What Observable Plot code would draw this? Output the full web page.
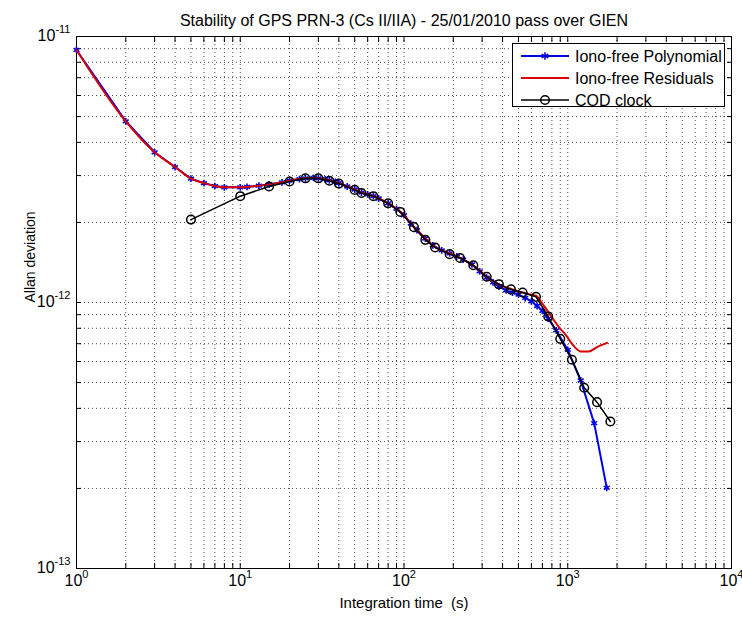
<!DOCTYPE html>
<html><head><meta charset="utf-8">
<script src="https://cdn.jsdelivr.net/npm/d3@7"></script>
<script src="https://cdn.jsdelivr.net/npm/@observablehq/plot@0.6"></script>
<style>
body{margin:0;background:#fff;}
svg{font-family:"Liberation Sans",Arial,sans-serif;}
</style>
</head><body><div id="chart"></div>
<script>
const title = "Stability of GPS PRN-3 (Cs II/IIA) - 25/01/2010 pass over GIEN";
const xLabel = "Integration time  (s)";
const yLabel = "Allan deviation";
const seriesNames = ["Iono-free Polynomial", "Iono-free Residuals", "COD clock"];
const seriesColors = ["#0000e6", "#d80000", "#000000"];

const polyTau = [1,2,3,4,5,6,7,8,10,11,13,15,18,20,23,25,28,30,33,35,38,40,45,50,55,60,65,70,80,90,100,110,120,135,150,170,190,210,230,260,290,320,350,380,420,460,500,550,600,650,700,760,850,1000,1200,1450,1730];
const polyVal = [8.9e-12,4.8e-12,3.67e-12,3.23e-12,2.92e-12,2.81e-12,2.74e-12,2.71e-12,2.71e-12,2.72e-12,2.75e-12,2.78e-12,2.83e-12,2.87e-12,2.91e-12,2.93e-12,2.94e-12,2.93e-12,2.91e-12,2.88e-12,2.84e-12,2.81e-12,2.73e-12,2.66e-12,2.59e-12,2.55e-12,2.51e-12,2.46e-12,2.36e-12,2.25e-12,2.13e-12,1.98e-12,1.87e-12,1.74e-12,1.64e-12,1.57e-12,1.53e-12,1.49e-12,1.45e-12,1.39e-12,1.31e-12,1.24e-12,1.19e-12,1.15e-12,1.11e-12,1.09e-12,1.07e-12,1.04e-12,1.01e-12,9.7e-13,9.3e-13,8.7e-13,7.85e-13,6.64e-13,5.09e-13,3.52e-13,2.01e-13];

const resTau = [1,2,3,4,5,6,7,8,10,11,13,15,18,20,23,25,28,30,33,35,38,40,45,50,55,60,65,70,80,90,100,110,120,135,150,170,190,210,230,260,290,320,350,380,420,460,500,550,600,640,700,790,880,965,1080,1200,1350,1510,1740];
const resVal = [8.9e-12,4.8e-12,3.67e-12,3.23e-12,2.92e-12,2.81e-12,2.74e-12,2.71e-12,2.71e-12,2.72e-12,2.75e-12,2.78e-12,2.83e-12,2.87e-12,2.91e-12,2.93e-12,2.94e-12,2.93e-12,2.91e-12,2.88e-12,2.84e-12,2.81e-12,2.73e-12,2.66e-12,2.59e-12,2.55e-12,2.51e-12,2.46e-12,2.36e-12,2.25e-12,2.13e-12,1.98e-12,1.87e-12,1.74e-12,1.64e-12,1.57e-12,1.53e-12,1.49e-12,1.45e-12,1.39e-12,1.32e-12,1.25e-12,1.2e-12,1.17e-12,1.14e-12,1.12e-12,1.1e-12,1.085e-12,1.07e-12,1.06e-12,9.9e-13,8.9e-13,8.1e-13,7.6e-13,6.9e-13,6.55e-13,6.55e-13,6.8e-13,7.05e-13];

const codTau = [5,10,15,20,25,30,35,40,50,55,65,80,95,115,135,155,190,220,265,320,380,450,530,640,760,900,1060,1260,1510,1820];
const codVal = [2.05e-12,2.51e-12,2.73e-12,2.85e-12,2.93e-12,2.93e-12,2.87e-12,2.8e-12,2.65e-12,2.58e-12,2.51e-12,2.36e-12,2.19e-12,1.92e-12,1.72e-12,1.61e-12,1.52e-12,1.47e-12,1.38e-12,1.25e-12,1.17e-12,1.12e-12,1.09e-12,1.05e-12,8.86e-13,7.3e-13,6.09e-13,4.78e-13,4.22e-13,3.57e-13];

const xMajor = [1, 10, 100, 1000, 10000];
const yMajor = [1e-13, 1e-12, 1e-11];
const xMinor = [0,1,2,3].flatMap(k => [2,3,4,5,6,7,8,9].map(m => m * Math.pow(10, k)));
const yMinor = [-13,-12].flatMap(k => [2,3,4,5,6,7,8,9].map(m => m * Math.pow(10, k)));
const xAll = xMajor.concat(xMinor);
const yAll = yMajor.concat(yMinor);

const poly = polyTau.map((t, i) => ({t, v: polyVal[i]}));
const res = resTau.map((t, i) => ({t, v: resVal[i]}));
const cod = codTau.map((t, i) => ({t, v: codVal[i]}));

const expFmt = d => "10^" + Math.round(Math.log10(d));
const gridStyle = {stroke: "#000", strokeOpacity: 0.7, strokeWidth: 1, strokeDasharray: "1,3"};
const font = "'Liberation Sans', Arial, sans-serif";

const plot = Plot.plot({
  width: 742, height: 617,
  marginLeft: 76, marginRight: 11, marginTop: 36, marginBottom: 49,
  style: {fontFamily: font, fontSize: "14px", background: "#fff", color: "#000", overflow: "visible"},
  x: {type: "log", domain: [1, 1e4]},
  y: {type: "log", domain: [1e-13, 1e-11]},
  marks: [
    Plot.gridX(xAll, gridStyle),
    Plot.gridY(yAll, gridStyle),
    Plot.axisX(xAll, {anchor: "bottom", tickSize: -5, tickFormat: () => "", label: null}),
    Plot.axisX(xAll, {anchor: "top", tickSize: -5, tickFormat: () => "", label: null}),
    Plot.axisY(yAll, {anchor: "left", tickSize: -5, tickFormat: () => "", label: null}),
    Plot.axisY(yAll, {anchor: "right", tickSize: -5, tickFormat: () => "", label: null}),
    Plot.axisX(xMajor, {anchor: "bottom", tickSize: 0, tickPadding: 8, tickFormat: expFmt, label: null}),
    Plot.axisY(yMajor, {anchor: "left", tickSize: 0, tickPadding: 6, tickFormat: expFmt, label: null}),
    Plot.frame({stroke: "#000", strokeWidth: 1}),
    Plot.line(poly, {x: "t", y: "v", stroke: seriesColors[0], strokeWidth: 2}),
    Plot.dot(poly, {x: "t", y: "v", symbol: "asterisk", r: 3.2, stroke: seriesColors[0], strokeWidth: 1.6}),
    Plot.line(res, {x: "t", y: "v", stroke: seriesColors[1], strokeWidth: 2, curve: "monotone-x"}),
    Plot.line(cod, {x: "t", y: "v", stroke: seriesColors[2], strokeWidth: 1.5}),
    Plot.dot(cod, {x: "t", y: "v", r: 4.3, stroke: seriesColors[2], strokeWidth: 1.5, fill: "none"}),
    Plot.text([title], {text: d => d, frameAnchor: "top", dy: -22, fontSize: 16}),
    Plot.text([xLabel], {text: d => d, frameAnchor: "bottom", dy: 39, fontSize: 15}),
    Plot.text([yLabel], {text: d => d, frameAnchor: "left", dx: -46, rotate: -90, fontSize: 14})
  ]
});

document.getElementById("chart").appendChild(plot);

// superscript exponents on tick labels
d3.select(plot).selectAll("text").each(function() {
  const s = this.textContent;
  if (/^10\^-?\d+$/.test(s)) {
    const [base, ex] = s.split("^");
    const sel = d3.select(this);
    sel.text("");
    sel.append("tspan").style("font-size", "16px").text(base);
    sel.append("tspan").attr("dy", "-8").style("font-size", "11px").text(ex);
  }
});

// legend (MATLAB-style box in upper right)
const svg = d3.select(plot);
const lg = svg.append("g").attr("font-family", font).attr("font-size", 16).attr("text-anchor", "start");
lg.append("rect").attr("x", 512.5).attr("y", 43.5).attr("width", 212).attr("height", 63)
  .attr("fill", "#fff").attr("stroke", "#000").attr("stroke-width", 1);
const rowsY = [56, 78, 100];
seriesNames.forEach((name, i) => {
  const y = rowsY[i];
  lg.append("line").attr("x1", 521).attr("x2", 569).attr("y1", y).attr("y2", y)
    .attr("stroke", seriesColors[i]).attr("stroke-width", i === 2 ? 1.5 : 2);
  if (i === 0) {
    lg.append("path").attr("d", d3.symbol(d3.symbolAsterisk, 40)()).attr("transform", `translate(545,${y})`)
      .attr("stroke", seriesColors[0]).attr("stroke-width", 1.6).attr("fill", "none");
  }
  if (i === 2) {
    lg.append("circle").attr("cx", 545).attr("cy", y).attr("r", 4.3)
      .attr("stroke", "#000").attr("stroke-width", 1.5).attr("fill", "none");
  }
  lg.append("text").attr("x", 575).attr("y", y).attr("dy", "0.35em")
    .attr("text-anchor", "start").style("font-size", "16px").text(name);
});
</script>
</body></html>
